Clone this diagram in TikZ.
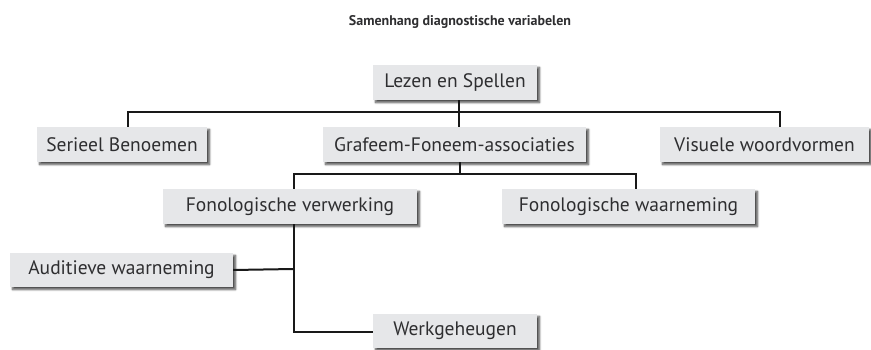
\documentclass[tikz,border=0pt]{standalone}
\usepackage{fontspec}
\setmainfont{PT Sans}
\usetikzlibrary{shadows.blur}
\definecolor{boxfill}{HTML}{E6E7E9}
\definecolor{txt}{HTML}{2E2E30}
\tikzset{
  dbox/.style={fill=boxfill, draw=none, inner sep=0pt, minimum height=35pt,
    text=txt, font=\fontsize{19.5}{21}\selectfont,
    blur shadow={shadow xshift=2.5pt, shadow yshift=-2.5pt, shadow blur steps=6, shadow blur radius=2pt, shadow opacity=70}},
  conn/.style={line width=2pt, line join=miter, draw=black!90}
}
\begin{document}
\begin{tikzpicture}[x=1pt,y=-1pt]
\useasboundingbox (0,0) rectangle (871,350);
\node[font=\fontsize{14}{16}\selectfont\bfseries, text=txt] (title) at (460,22) {Samenhang diagnostische variabelen};
\node[dbox, minimum width=164pt] (lezen) at (455,82.5) {Lezen en Spellen};
\node[dbox, minimum width=170pt] (serieel) at (122,144.5) {Serieel Benoemen};
\node[dbox, minimum width=263pt] (grafeem) at (454.5,144.5) {Grafeem-Foneem-associaties};
\node[dbox, minimum width=209pt] (visuele) at (764.5,144.5) {Visuele woordvormen};
\node[dbox, minimum width=254pt] (fonverw) at (290,206.5) {Fonologische verwerking};
\node[dbox, minimum width=253pt] (fonwaarn) at (628.5,206.5) {Fonologische waarneming};
\node[dbox, minimum width=223pt, minimum height=34pt] (auditief) at (121.5,270) {Auditieve waarneming};
\node[dbox, minimum width=164pt, minimum height=34pt] (werk) at (455,331) {Werkgeheugen};
% level 1 bus
\coordinate (b1) at (459,112.5);
\coordinate (b1L) at (128,112.5);
\coordinate (b1R) at (780,112.5);
\draw[conn] (lezen.south -| b1) -- (b1);
\draw[conn] (serieel.north -| b1L) -- (b1L) -- (b1R) -- (visuele.north -| b1R);
\draw[conn] (b1) -- (grafeem.north -| b1);
% level 2 bus
\coordinate (b2) at (460,174);
\coordinate (b2L) at (293.5,174);
\coordinate (b2R) at (636,174);
\draw[conn] (grafeem.south -| b2) -- (b2);
\draw[conn] (fonverw.north -| b2L) -- (b2L) -- (b2R) -- (fonwaarn.north -| b2R);
% level 3
\coordinate (b3) at (293.5,269);
\coordinate (b3B) at (293.5,332);
\draw[conn] (fonverw.south -| b3) -- (b3B) -- (werk.west |- b3B);
\draw[conn] (auditief.east) -- (b3);
\end{tikzpicture}
\end{document}
